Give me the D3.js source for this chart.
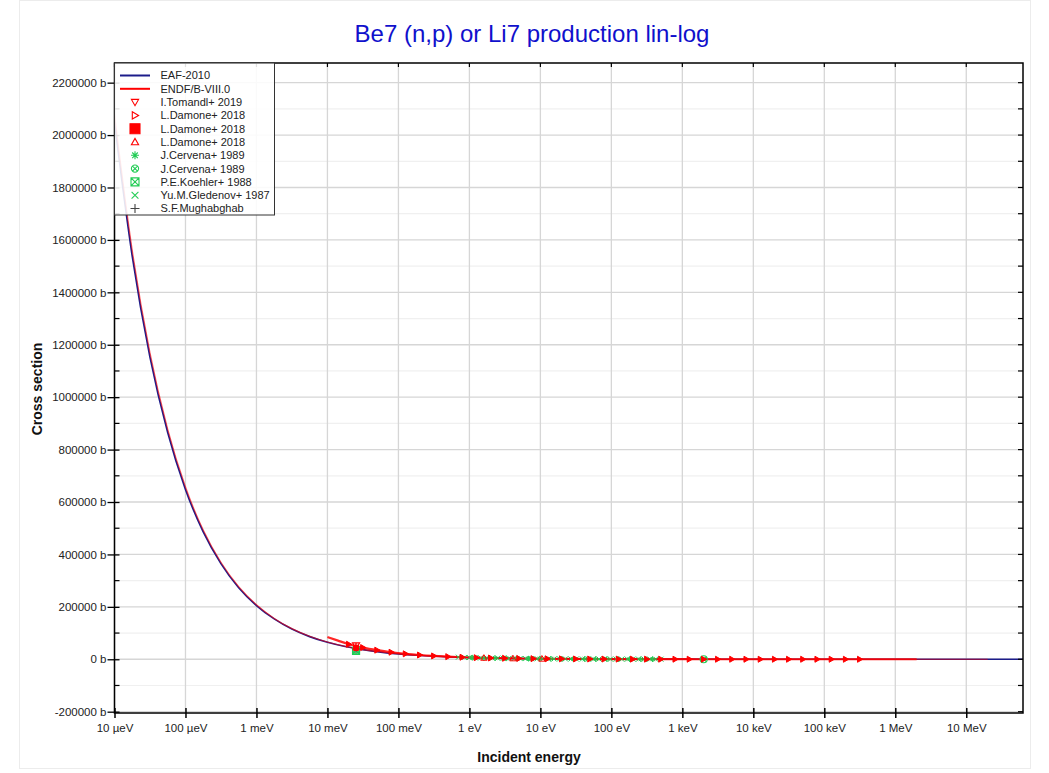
<!DOCTYPE html>
<html>
<head>
<meta charset="utf-8">
<script src="https://cdn.jsdelivr.net/npm/d3@7"></script>
<style>
  body { margin: 0; background: #fff; }
  svg { display: block; font-family: "Liberation Sans", Arial, sans-serif; }
</style>
</head>
<body>
<div id="wrapper"></div>
<script>
// energies in eV, cross sections in barns
const eafEnergy = [1e-5, 1.78e-5, 3.16e-5, 5.62e-5, 1e-4, 1.78e-4, 3.16e-4, 5.62e-4, 1e-3, 1.78e-3, 3.16e-3, 5.62e-3, 1e-2, 1.78e-2, 3.16e-2, 5.62e-2, 0.1, 0.178, 0.316, 1, 3.16, 10, 100, 1e3, 1e4, 1e5, 1e6, 1e7, 6.3e7];
const eafSigma = [2050000, 1537000, 1153000, 865000, 648000, 486000, 365000, 273000, 205000, 154000, 115300, 86500, 64800, 48600, 36500, 27300, 20500, 15400, 11500, 6480, 3650, 2050, 648, 205, 65, 21, 7, 2, 1];

const endfEnergy = [1e-5, 1.78e-5, 3.16e-5, 5.62e-5, 1e-4, 1.78e-4, 3.16e-4, 5.62e-4, 1e-3, 1.78e-3, 3.16e-3, 5.62e-3, 1e-2, 1.78e-2, 3.16e-2, 5.62e-2, 0.1, 0.178, 0.316, 1, 3.16, 10, 100, 1e3, 1e4, 1e5, 1e6, 2e7];
const endfSigma = [2080000, 1560000, 1170000, 878000, 658000, 493000, 370000, 277000, 208000, 156000, 117000, 87800, 65800, 49300, 37000, 27700, 20800, 15600, 11700, 6580, 3700, 2080, 658, 208, 66, 21, 7, 2];

// L.Damone+ 2018 n_TOF data (dense, drawn as a line with right triangles)
const damoneEnergy = [0.01, 0.0141, 0.02, 0.0316, 0.05, 0.0794, 0.126, 0.2, 0.316, 0.5, 0.794, 1.26, 2, 3.16, 5, 7.94, 12.6, 20, 31.6, 50, 79.4, 126, 200, 316, 500, 794, 1260, 2000, 3160, 5000, 7940, 12600, 20000, 31600, 50000, 79400, 126000, 200000, 316000, 1e6, 2e6];
const damoneSigma = [85000, 71000, 57300, 44500, 34800, 26900, 20800, 16200, 12700, 9900, 7710, 6060, 4800, 3830, 3040, 2420, 1920, 1520, 1210, 960, 760, 610, 480, 380, 300, 240, 190, 150, 120, 95, 75, 60, 48, 38, 30, 24, 19, 15, 12, 6, 4];
const damoneTriEnergy = [0.02, 0.0316, 0.05, 0.0794, 0.126, 0.2, 0.316, 0.5, 0.794, 1.26, 2, 3.16, 5, 7.94, 12.6, 20, 31.6, 50, 79.4, 126, 200, 316, 500, 794, 1260, 2000, 3160, 5000, 7940, 12600, 20000, 31600, 50000, 79400, 126000, 200000, 316000];
const damoneTriSigma = [57300, 44500, 34800, 26900, 20800, 16200, 12700, 9900, 7710, 6060, 4800, 3830, 3040, 2420, 1920, 1520, 1210, 960, 760, 610, 480, 380, 300, 240, 190, 150, 120, 95, 75, 60, 48, 38, 30, 24, 19, 15, 12];

const tomandlEnergy = [0.0253];
const tomandlSigma = [52300];
const damoneSqEnergy = [0.0253];
const damoneSqSigma = [43000];
const damoneUpEnergy = [0.0253, 1.6, 4.1, 10.5];
const damoneUpSigma = [49000, 5400, 3300, 2000];

const cervenaStarEnergy = [0.0253, 1.1, 1.6, 2.3, 3.3, 4.7, 6.8, 9.8, 14, 20, 29, 42, 60, 86, 125, 180, 260, 380];
const cervenaStarSigma = [38000, 6200, 5100, 4300, 3600, 3000, 2500, 2100, 1750, 1450, 1200, 1000, 840, 700, 580, 480, 400, 330];
const cervenaCircEnergy = [0.0253, 2000];
const cervenaCircSigma = [36000, 150];
const koehlerEnergy = [0.0253];
const koehlerSigma = [31700];
const gledenovEnergy = [0.7, 0.85, 1.0, 1.2, 1.45, 1.75, 2.1, 2.5, 3.0, 3.6, 4.3, 5.2, 6.2, 7.5, 9, 10.8, 13, 15.6, 18.7, 22.5, 27, 32, 39, 47, 56, 67, 81, 97, 117, 140, 168, 202, 242, 290, 350, 420, 500];
const gledenovSigma = [7900, 6900, 6600, 5800, 5450, 4850, 4550, 4000, 3800, 3350, 3200, 2780, 2650, 2320, 2200, 1930, 1840, 1600, 1530, 1340, 1280, 1120, 1060, 930, 890, 770, 740, 640, 610, 530, 510, 450, 430, 370, 360, 310, 300];
const mughabghabEnergy = [0.0253];
const mughabghabSigma = [38400];

const xTickValues = [1e-5, 1e-4, 1e-3, 1e-2, 1e-1, 1, 10, 100, 1e3, 1e4, 1e5, 1e6, 1e7];
const xTickLabels = ["10 µeV", "100 µeV", "1 meV", "10 meV", "100 meV", "1 eV", "10 eV", "100 eV", "1 keV", "10 keV", "100 keV", "1 MeV", "10 MeV"];
const yTickValues = [-200000, 0, 200000, 400000, 600000, 800000, 1000000, 1200000, 1400000, 1600000, 1800000, 2000000, 2200000];
const yTickLabels = ["-200000 b", "0 b", "200000 b", "400000 b", "600000 b", "800000 b", "1000000 b", "1200000 b", "1400000 b", "1600000 b", "1800000 b", "2000000 b", "2200000 b"];
const yMinorValues = [-100000, 100000, 300000, 500000, 700000, 900000, 1100000, 1300000, 1500000, 1700000, 1900000, 2100000];

const legendNames = ["EAF-2010", "ENDF/B-VIII.0", "I.Tomandl+ 2019", "L.Damone+ 2018", "L.Damone+ 2018", "L.Damone+ 2018", "J.Cervena+ 1989", "J.Cervena+ 1989", "P.E.Koehler+ 1988", "Yu.M.Gledenov+ 1987", "S.F.Mughabghab"];

const blue = "#1c1c8a";
const red = "#ff0000";
const green = "#22cc55";
const gray = "#444";

const width = 1049;
const height = 773;
const plot = { left: 114.5, right: 1023, top: 63, bottom: 713 };

const svg = d3.select("#wrapper").append("svg")
  .attr("width", width)
  .attr("height", height);

svg.append("rect")
  .attr("x", 19.5).attr("y", 0.5)
  .attr("width", 1011).attr("height", 768)
  .attr("fill", "#fff")
  .attr("stroke", "#ececec");

const xScale = d3.scaleLog()
  .domain([1e-5, 6.3e7])
  .range([plot.left, plot.right]);

const yScale = d3.scaleLinear()
  .domain([-205000, 2275000])
  .range([plot.bottom, plot.top]);

// grid
const grid = svg.append("g");
grid.selectAll(".ymin").data(yMinorValues).join("line")
  .attr("x1", plot.left).attr("x2", plot.right)
  .attr("y1", (d) => yScale(d)).attr("y2", (d) => yScale(d))
  .attr("stroke", "#f0f0f0").attr("stroke-width", 1.2);
grid.selectAll(".ymaj").data(yTickValues).join("line")
  .attr("x1", plot.left).attr("x2", plot.right)
  .attr("y1", (d) => yScale(d)).attr("y2", (d) => yScale(d))
  .attr("stroke", "#d6d6d6").attr("stroke-width", 1.3);
grid.selectAll(".xmaj").data(xTickValues).join("line")
  .attr("x1", (d) => xScale(d)).attr("x2", (d) => xScale(d))
  .attr("y1", plot.top).attr("y2", plot.bottom)
  .attr("stroke", "#d6d6d6").attr("stroke-width", 1.3);

svg.append("clipPath").attr("id", "clip")
  .append("rect")
  .attr("x", plot.left).attr("y", plot.top)
  .attr("width", plot.right - plot.left).attr("height", plot.bottom - plot.top);

const bounds = svg.append("g").attr("clip-path", "url(#clip)");

const lineGenerator = d3.line()
  .curve(d3.curveMonotoneX)
  .x((d) => xScale(d[0]))
  .y((d) => yScale(d[1]));

const zip = (a, b) => a.map((e, i) => [e, b[i]]);

bounds.append("path")
  .attr("d", lineGenerator(zip(eafEnergy, eafSigma)))
  .attr("fill", "none").attr("stroke", blue).attr("stroke-width", 1.7);

bounds.append("path")
  .attr("d", lineGenerator(zip(endfEnergy, endfSigma)))
  .attr("fill", "none").attr("stroke", red).attr("stroke-width", 1.2)
  .attr("stroke-opacity", 0.6);

bounds.append("path")
  .attr("d", lineGenerator(zip(damoneEnergy, damoneSigma)))
  .attr("fill", "none").attr("stroke", red).attr("stroke-width", 2.2)
  .attr("stroke-opacity", 0.85);

// marker shapes centred at 0,0
const markerShapes = {
  triDown: (s) => `M${-s},${-s * 0.75}L${s},${-s * 0.75}L0,${s}Z`,
  triRight: (s) => `M${-s * 0.75},${-s}L${s},0L${-s * 0.75},${s}Z`,
  triUp: (s) => `M${-s},${s * 0.75}L${s},${s * 0.75}L0,${-s}Z`,
  square: (s) => `M${-s},${-s}H${s}V${s}H${-s}Z`,
  star: (s) => `M${-s},0H${s}M0,${-s}V${s}M${-s * 0.7},${-s * 0.7}L${s * 0.7},${s * 0.7}M${-s * 0.7},${s * 0.7}L${s * 0.7},${-s * 0.7}`,
  circleX: (s) => `M${s},0A${s},${s} 0 1,1 ${-s},0A${s},${s} 0 1,1 ${s},0M${-s * 0.7},${-s * 0.7}L${s * 0.7},${s * 0.7}M${-s * 0.7},${s * 0.7}L${s * 0.7},${-s * 0.7}`,
  squareX: (s) => `M${-s},${-s}H${s}V${s}H${-s}ZM${-s},${-s}L${s},${s}M${-s},${s}L${s},${-s}`,
  cross: (s) => `M${-s},${-s}L${s},${s}M${-s},${s}L${s},${-s}`,
  plus: (s) => `M${-s},0H${s}M0,${-s}V${s}`,
};

const drawMarkers = (parent, energies, sigmas, shape, size, color, filled, sw) => {
  parent.append("g").selectAll("path")
    .data(zip(energies, sigmas))
    .join("path")
    .attr("transform", (d) => `translate(${xScale(d[0])},${yScale(d[1])})`)
    .attr("d", markerShapes[shape](size))
    .attr("fill", filled ? color : "none")
    .attr("stroke", color)
    .attr("stroke-width", sw || 1);
};

drawMarkers(bounds, gledenovEnergy, gledenovSigma, "cross", 2.5, green, false, 1);
drawMarkers(bounds, cervenaStarEnergy, cervenaStarSigma, "star", 2.8, green, false, 1);
drawMarkers(bounds, cervenaCircEnergy, cervenaCircSigma, "circleX", 3.5, green, false, 1.2);
drawMarkers(bounds, koehlerEnergy, koehlerSigma, "squareX", 3.5, green, false, 1.2);
drawMarkers(bounds, mughabghabEnergy, mughabghabSigma, "plus", 3.5, gray, false, 1);
drawMarkers(bounds, damoneTriEnergy, damoneTriSigma, "triRight", 3, red, true, 1);
drawMarkers(bounds, damoneUpEnergy, damoneUpSigma, "triUp", 3.2, red, false, 1);
drawMarkers(bounds, damoneSqEnergy, damoneSqSigma, "square", 2.5, red, true, 1);
drawMarkers(bounds, tomandlEnergy, tomandlSigma, "triDown", 3.5, red, false, 1.2);

// axes
const xAxis = d3.axisBottom(xScale)
  .tickValues(xTickValues)
  .tickFormat((d, i) => xTickLabels[i])
  .tickSizeOuter(0);
const xAxisG = svg.append("g")
  .attr("transform", `translate(0,${plot.bottom})`)
  .call(xAxis);
xAxisG.select(".domain").remove();
xAxisG.selectAll(".tick line").attr("y1", -5).attr("y2", 5).attr("stroke", "#000").attr("stroke-width", 1.5);
xAxisG.selectAll(".tick text")
  .attr("y", 11)
  .style("font-size", "11.5px")
  .style("font-family", "Liberation Sans, Arial, sans-serif")
  .attr("fill", "#222");

const yAxis = d3.axisLeft(yScale)
  .tickValues(yTickValues)
  .tickFormat((d, i) => yTickLabels[i])
  .tickSizeOuter(0);
const yAxisG = svg.append("g")
  .attr("transform", `translate(${plot.left},0)`)
  .call(yAxis);
yAxisG.select(".domain").remove();
yAxisG.selectAll(".tick line").attr("x1", -7).attr("x2", 5).attr("stroke", "#000").attr("stroke-width", 1.3);
yAxisG.selectAll(".tick text")
  .attr("x", -8)
  .style("font-size", "11.5px")
  .style("font-family", "Liberation Sans, Arial, sans-serif")
  .attr("fill", "#222");

// minor ticks left and right, mirrored ticks top and right
const ticks = svg.append("g").attr("stroke", "#000").attr("stroke-width", 1.2);
ticks.selectAll(".lmin").data(yMinorValues).join("line")
  .attr("x1", plot.left).attr("x2", plot.left + 5)
  .attr("y1", (d) => yScale(d)).attr("y2", (d) => yScale(d));
ticks.selectAll(".rt").data(yMinorValues.concat(yTickValues)).join("line")
  .attr("x1", plot.right - 5).attr("x2", plot.right)
  .attr("y1", (d) => yScale(d)).attr("y2", (d) => yScale(d));
ticks.selectAll(".tt").data(xTickValues).join("line")
  .attr("x1", (d) => xScale(d)).attr("x2", (d) => xScale(d))
  .attr("y1", plot.top).attr("y2", plot.top + 4);

svg.append("rect")
  .attr("x", plot.left).attr("y", plot.top)
  .attr("width", plot.right - plot.left).attr("height", plot.bottom - plot.top)
  .attr("fill", "none").attr("stroke", "#000").attr("stroke-width", 1.5);

// titles
svg.append("text")
  .attr("x", 532).attr("y", 42)
  .attr("text-anchor", "middle")
  .attr("fill", "#1010cc")
  .style("font-size", "24px")
  .text("Be7 (n,p) or Li7 production lin-log");

svg.append("text")
  .attr("x", 529).attr("y", 762)
  .attr("text-anchor", "middle")
  .attr("fill", "#111")
  .style("font-size", "14px")
  .style("font-weight", "bold")
  .text("Incident energy");

svg.append("text")
  .attr("transform", "translate(42,389) rotate(-90)")
  .attr("text-anchor", "middle")
  .attr("fill", "#111")
  .style("font-size", "14px")
  .style("font-weight", "bold")
  .text("Cross section");

// legend
const legend = svg.append("g");
legend.append("rect")
  .attr("x", plot.left).attr("y", plot.top)
  .attr("width", 160).attr("height", 152)
  .attr("fill", "#fff").attr("fill-opacity", 0.88)
  .attr("stroke", "#333").attr("stroke-width", 1);

const legendSymbols = [
  { type: "line", color: blue },
  { type: "line", color: red },
  { shape: "triDown", color: red, size: 3.6, filled: false },
  { shape: "triRight", color: red, size: 3.6, filled: false },
  { shape: "square", color: red, size: 5, filled: true },
  { shape: "triUp", color: red, size: 3.6, filled: false },
  { shape: "star", color: green, size: 4, filled: false },
  { shape: "circleX", color: green, size: 3.6, filled: false },
  { shape: "squareX", color: green, size: 4, filled: false },
  { shape: "cross", color: green, size: 3.4, filled: false },
  { shape: "plus", color: gray, size: 4.5, filled: false },
];

const rowY = (i) => 75.5 + i * 13.3;
legendNames.forEach((name, i) => {
  const sym = legendSymbols[i];
  const y = rowY(i);
  if (sym.type === "line") {
    legend.append("line")
      .attr("x1", 120).attr("x2", 150)
      .attr("y1", y).attr("y2", y)
      .attr("stroke", sym.color).attr("stroke-width", 2);
  } else {
    legend.append("path")
      .attr("transform", `translate(135,${y})`)
      .attr("d", markerShapes[sym.shape](sym.size))
      .attr("fill", sym.filled ? sym.color : "none")
      .attr("stroke", sym.color).attr("stroke-width", 1.1);
  }
  legend.append("text")
    .attr("x", 160.5).attr("y", y + 3.9)
    .attr("fill", "#222")
    .style("font-size", "11px")
    .text(name);
});
</script>
</body>
</html>
